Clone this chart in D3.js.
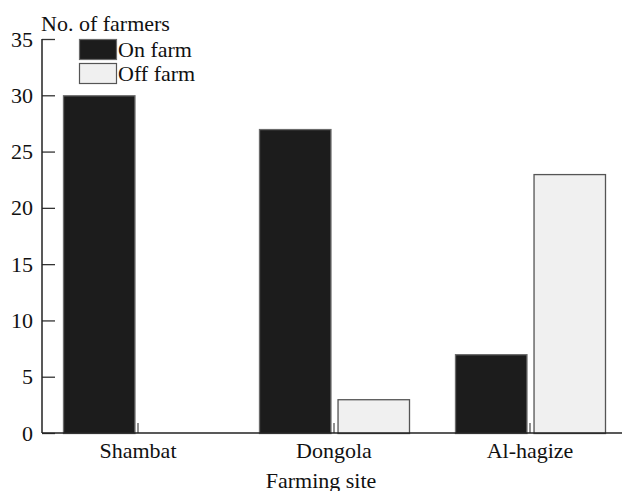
<!DOCTYPE html>
<html><head><meta charset="utf-8">
<script src="https://cdn.jsdelivr.net/npm/d3@7"></script>
<style>body{margin:0;background:#fff}svg{display:block}</style>
</head><body><svg id="c" width="622" height="491"></svg>
<script>
const categories = ["Shambat", "Dongola", "Al-hagize"];
const seriesNames = ["On farm", "Off farm"];
const onFarm = [30, 27, 7];
const offFarm = [0, 3, 23];
const yTicks = [0, 5, 10, 15, 20, 25, 30, 35];

const FF = "'Liberation Serif', 'Times New Roman', Times, serif";
const FS = "22px";
const svg = d3.select("#c");
const y = d3.scaleLinear().domain([0, 35]).range([433, 39]);
const x = d3.scaleBand().domain(categories).range([40, 628]).padding(0);
const x1 = d3.scaleBand().domain(seriesNames).range([0, 150]).paddingInner(0.09);
const fills = {"On farm": "#1c1c1c", "Off farm": "#f0f0f0"};
const strokes = {"On farm": "#6a6a6a", "Off farm": "#555"};

const data = categories.map((c, i) => ({c, vals: [{s: "On farm", v: onFarm[i]}, {s: "Off farm", v: offFarm[i]}]}));
const g = svg.append("g");
g.selectAll("g.cat").data(data).join("g")
  .attr("transform", d => `translate(${x(d.c) + x.bandwidth()/2 - 75},0)`)
  .selectAll("rect").data(d => d.vals.filter(e => e.v > 0)).join("rect")
  .attr("x", d => x1(d.s) + 0.5).attr("width", x1.bandwidth())
  .attr("y", d => y(d.v) + 0.5).attr("height", d => y(0) - y(d.v))
  .attr("fill", d => fills[d.s]).attr("stroke", d => strokes[d.s]).attr("stroke-width", 1.3);

// y axis
const ya = svg.append("g").attr("transform", "translate(42,0)")
  .call(d3.axisRight(y).tickValues(yTicks).tickSize(13).tickFormat(d3.format("d")));
ya.select(".domain").remove();
ya.attr("font-family", FF);
ya.selectAll("line").attr("stroke", "#333").attr("stroke-width", 1.3);
ya.selectAll("text").attr("x", -9).attr("text-anchor", "end").attr("dy", "0.32em").attr("fill", "#111").style("font-size", FS).style("font-family", FF);
svg.append("line").attr("x1", 42).attr("x2", 42).attr("y1", y(35)).attr("y2", y(0)).attr("stroke", "#222").attr("stroke-width", 1.5);

// x axis
const xa = svg.append("g").attr("transform", `translate(0,${y(0)})`)
  .call(d3.axisTop(x).tickSize(10).tickFormat(""));
xa.select(".domain").remove();
xa.selectAll("line").attr("stroke", "#555").attr("stroke-width", 1.3);
svg.append("line").attr("x1", 42).attr("x2", 622).attr("y1", y(0)).attr("y2", y(0)).attr("stroke", "#222").attr("stroke-width", 1.5);
svg.append("g").selectAll("text").data(categories).join("text")
  .attr("x", d => x(d) + x.bandwidth()/2).attr("y", 458).attr("text-anchor", "middle")
  .style("font-family", FF).style("font-size", FS).attr("fill", "#111").text(d => d);

svg.append("text").attr("x", 321).attr("y", 488).attr("text-anchor", "middle").style("font-family", FF).style("font-size", FS).attr("fill", "#111").text("Farming site");
svg.append("text").attr("x", 41).attr("y", 31).style("font-family", FF).style("font-size", FS).attr("fill", "#111").text("No. of farmers");

// legend
const lg = svg.append("g").selectAll("g").data(seriesNames).join("g")
  .attr("transform", (d, i) => `translate(79,${39 + i * 24})`);
lg.append("rect").attr("x", 0.5).attr("y", 0.5).attr("width", 37).attr("height", 20)
  .attr("fill", d => fills[d]).attr("stroke", d => strokes[d]).attr("stroke-width", 1.2);
lg.append("text").attr("x", 39).attr("y", 18).style("font-family", FF).style("font-size", FS).attr("fill", "#111").text(d => d);
</script></body></html>
